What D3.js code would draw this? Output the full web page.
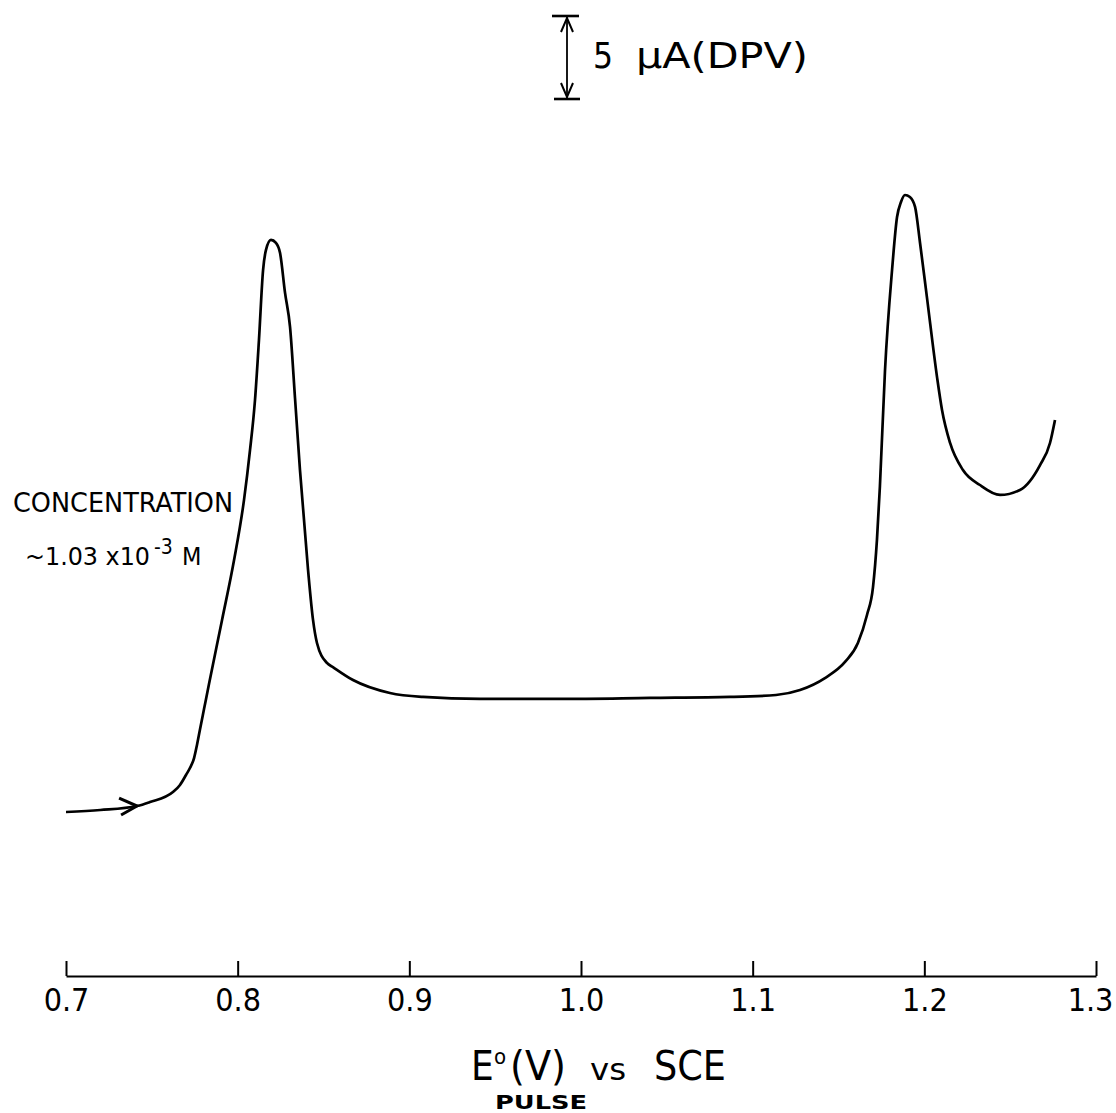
<!DOCTYPE html>
<html>
<head>
<meta charset="utf-8">
<script src="https://cdn.jsdelivr.net/npm/d3@7"></script>
<style>
  html, body { margin: 0; padding: 0; background: #fff; }
  svg text { font-family: "DejaVu Sans Condensed", "Liberation Sans Narrow", "DejaVu Sans", sans-serif; fill: #000; }
</style>
</head>
<body>
<svg id="chart" width="1116" height="1113"></svg>
<script>
// potential (V vs SCE) and DPV current (uA, relative to start of scan)
const potentialV = [0.700, 0.720, 0.7414, 0.7489, 0.7623, 0.7664, 0.7699, 0.7722, 0.7746, 0.7763,
  0.7781, 0.7804, 0.7833, 0.7909, 0.7979, 0.8037, 0.8072, 0.8101, 0.8124, 0.8148, 0.8165,
  0.8194, 0.8223, 0.8247, 0.8276, 0.8305, 0.8334, 0.8363, 0.8410, 0.8439, 0.8462,
  0.8520, 0.8555, 0.8672, 0.8887, 0.9080, 0.9412, 0.9878, 1.0402, 1.0868, 1.1136,
  1.1276, 1.1421, 1.1538, 1.1613, 1.1666, 1.1701, 1.1724, 1.1741, 1.1771, 1.1812,
  1.1841, 1.1864, 1.1887, 1.1916, 1.1946, 1.1975, 1.2015, 1.2074, 1.2103, 1.2150,
  1.2225, 1.2324, 1.2441, 1.2557, 1.2674, 1.2732, 1.2761]
const currentUA = [0.00, 0.12, 0.36, 0.60, 1.20, 1.63, 2.23, 2.65, 3.25, 4.04,
  5.00, 6.20, 7.71, 11.57, 15.18, 18.80, 21.81, 24.82, 28.43, 32.65, 33.86,
  34.46, 34.28, 33.67, 31.27, 29.22, 24.94, 20.60, 14.58, 11.57, 10.18,
  8.98, 8.73, 7.95, 7.17, 6.93, 6.81, 6.81, 6.87, 6.93, 7.05,
  7.35, 8.07, 9.04, 10.18, 11.87, 13.55, 16.39, 19.58, 26.63, 32.65,
  35.84, 36.75, 37.17, 37.05, 36.45, 34.28, 31.02, 26.20, 24.22, 22.23,
  20.60, 19.70, 19.10, 19.40, 20.90, 22.23, 23.61]
const xTicks = [0.7, 0.8, 0.9, 1.0, 1.1, 1.2, 1.3]
const scaleBarUA = 5
const arrowAt = 0.7414

var svg = d3.select("#chart")
var axisY = 976

var x = d3.scaleLinear().domain([0.7, 1.3]).range([66, 1096])
// 5 uA = 83 px on the recorder
var y = d3.scaleLinear().domain([0, 5]).range([812, 729])

// x axis with ticks pointing up
var xAxis = d3.axisBottom(x)
  .tickValues(xTicks)
  .tickFormat(d3.format(".1f"))
  .tickSizeInner(-15)
  .tickSizeOuter(0)
  .tickPadding(12)

var gx = svg.append("g")
  .attr("transform", "translate(0," + axisY + ")")
  .call(xAxis)
gx.select(".domain").attr("stroke", "#000").attr("stroke-width", 2)
gx.selectAll(".tick line").attr("stroke", "#000").attr("stroke-width", 2)
gx.selectAll(".tick text")
  .attr("font-size", 32)
  .attr("font-family", "DejaVu Sans Condensed, sans-serif")
  .attr("fill", "#000")
  .attr("dx", d => d === 1.3 ? -6 : 0)

// curve
var line = d3.line()
  .x((d, i) => x(potentialV[i]))
  .y((d, i) => y(currentUA[i]))
  .curve(d3.curveMonotoneX)

svg.append("path")
  .datum(potentialV)
  .attr("d", line)
  .attr("fill", "none")
  .attr("stroke", "#000")
  .attr("stroke-width", 2.7)
  .attr("stroke-linejoin", "round")

// arrow on the start of the scan
var ax = x(arrowAt), ay = y(currentUA[2])
svg.append("path")
  .attr("d", "M" + (ax - 18) + "," + (ay - 8) + "L" + ax + "," + ay + "L" + (ax - 16) + "," + (ay + 9))
  .attr("fill", "none")
  .attr("stroke", "#000")
  .attr("stroke-width", 3)

// scale bar 5 uA
var sbX = 567, sbTop = 16
var sbBot = sbTop + (y(0) - y(scaleBarUA))
var sb = svg.append("g").attr("stroke", "#000").attr("fill", "none")
sb.append("line").attr("x1", sbX).attr("x2", sbX).attr("y1", sbTop).attr("y2", sbBot).attr("stroke-width", 1.8)
sb.append("line").attr("x1", sbX - 15).attr("x2", sbX + 12).attr("y1", sbTop).attr("y2", sbTop).attr("stroke-width", 2.6)
sb.append("line").attr("x1", sbX - 13).attr("x2", sbX + 13).attr("y1", sbBot).attr("y2", sbBot).attr("stroke-width", 2.6)
sb.append("path").attr("d", "M" + (sbX - 6) + "," + (sbTop + 16) + "L" + sbX + "," + (sbTop + 2) + "L" + (sbX + 6) + "," + (sbTop + 16)).attr("stroke-width", 2)
sb.append("path").attr("d", "M" + (sbX - 6) + "," + (sbBot - 16) + "L" + sbX + "," + (sbBot - 2) + "L" + (sbX + 6) + "," + (sbBot - 16)).attr("stroke-width", 2)

svg.append("text")
  .attr("x", 593).attr("y", 68)
  .attr("font-size", 35)
  .text("5")
svg.append("text")
  .attr("x", 636).attr("y", 68)
  .attr("font-size", 36)
  .attr("textLength", 172)
  .attr("lengthAdjust", "spacingAndGlyphs")
  .text("\u00b5A(DPV)")

// concentration note
svg.append("text")
  .attr("x", 13).attr("y", 512)
  .attr("font-size", 27)
  .attr("textLength", 220)
  .attr("lengthAdjust", "spacingAndGlyphs")
  .text("CONCENTRATION")
svg.append("text")
  .attr("x", 25).attr("y", 565)
  .attr("font-size", 25)
  .attr("textLength", 125)
  .attr("lengthAdjust", "spacingAndGlyphs")
  .text("~1.03 x10")
svg.append("text")
  .attr("x", 154).attr("y", 554)
  .attr("font-size", 21)
  .text("-3")
svg.append("text")
  .attr("x", 182).attr("y", 565)
  .attr("font-size", 25)
  .text("M")

// axis title
svg.append("text").attr("x", 471).attr("y", 1080).attr("font-size", 40).text("E")
svg.append("text").attr("x", 494).attr("y", 1064).attr("font-size", 22).text("o")
svg.append("text").attr("x", 510).attr("y", 1080).attr("font-size", 40)
  .attr("textLength", 56).attr("lengthAdjust", "spacingAndGlyphs").text("(V)")
svg.append("text").attr("x", 590).attr("y", 1080).attr("font-size", 30)
  .attr("textLength", 36).attr("lengthAdjust", "spacingAndGlyphs").text("vs")
svg.append("text").attr("x", 654).attr("y", 1080).attr("font-size", 40)
  .attr("textLength", 72).attr("lengthAdjust", "spacingAndGlyphs").text("SCE")

svg.append("text")
  .attr("x", 495).attr("y", 1109)
  .attr("font-size", 20)
  .attr("font-weight", "bold")
  .attr("textLength", 92)
  .attr("lengthAdjust", "spacingAndGlyphs")
  .text("PULSE")
</script>
</body>
</html>
